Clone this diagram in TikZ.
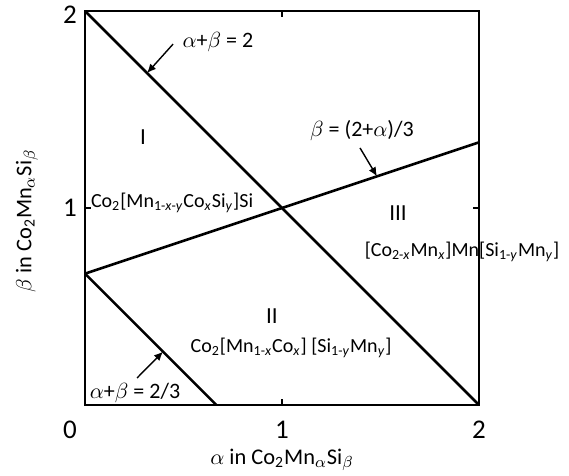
\documentclass[tikz,border=0pt]{standalone}
\usepackage{fontspec}
\setmainfont{Carlito}
\usepackage{tikz}
\usetikzlibrary{arrows.meta}
\newcommand{\sbs}[1]{\textsubscript{#1}}

\begin{document}
\begin{tikzpicture}[x=98.5pt,y=98.5pt,font=\fontsize{10}{12}\selectfont,
  >={Latex[length=4.5pt,width=4pt]},
  bd/.style={line width=1.3pt},
  ann/.style={->,line width=0.7pt},
  lb/.style={font=\fontsize{11}{13}\selectfont},
  tk/.style={font=\fontsize{13.5}{16}\selectfont},
  rg/.style={font=\fontsize{11.5}{14}\selectfont},
  ax/.style={font=\fontsize{11.2}{13}\selectfont}]
\useasboundingbox (-0.4315,-0.3604) rectangle (2.4569,2.0558);
\coordinate (o) at (0,0);
\coordinate (c) at (2,2);
\coordinate (b2) at (0,2);
\coordinate (a2) at (2,0);
\coordinate (b23) at (0,2/3);
\coordinate (a23) at (2/3,0);
\coordinate (r43) at (2,4/3);
\draw[bd] (o) rectangle (c);
\draw[bd] (b2) -- (a2);
\draw[bd] (b23) -- (r43);
\draw[bd] (b23) -- (a23);
\draw[line width=1pt] (1,0) -- ++(0,0.03) (1,2) -- ++(0,-0.03)
  (0,1) -- ++(0.03,0) (2,1) -- ++(-0.03,0);
\node[tk] (y2) at (-0.076,1.98) {2};
\node[tk] (y1) at (-0.076,1.0) {1};
\node[tk] (x0) at (-0.076,-0.127) {0};
\node[tk] (x1) at (1,-0.127) {1};
\node[tk] (x2) at (2,-0.127) {2};
\node[ax] (xlab) at (1,-0.279) {$\alpha$ in Co\sbs{2}Mn$_\alpha$Si$_\beta$};
\node[ax,rotate=90] (ylab) at (-0.295,0.935) {$\beta$ in Co\sbs{2}Mn$_\alpha$Si$_\beta$};
\node[rg] (r1) at (0.294,1.36) {I};
\node[rg] (r2) at (0.949,0.452) {II};
\node[rg] (r3) at (1.589,0.975) {III};
\node (f1) at (0.442,1.025) {Co\sbs{2}[Mn\sbs{1-\textit{x}-\textit{y}}Co\sbs{\textit{x}}Si\sbs{\textit{y}}]Si};
\node (f2) at (1.046,0.289) {Co\sbs{2}[Mn\sbs{1-\textit{x}}Co\sbs{\textit{x}}] [Si\sbs{1-\textit{y}}Mn\sbs{\textit{y}}]};
\node (f3) at (1.914,0.777) {[Co\sbs{2-\textit{x}}Mn\sbs{\textit{x}}]Mn[Si\sbs{1-\textit{y}}Mn\sbs{\textit{y}}]};
\node[lb] (l1) at (0.675,1.843) {$\alpha$+$\beta$ = 2};
\node[lb] (l2) at (1.406,1.391) {$\beta$ = (2+$\alpha$)/3};
\node[lb] (l3) at (0.254,0.061) {$\alpha$+$\beta$ = 2/3};
\path (b2) -- (a2) coordinate[pos=0.1575] (p1);
\path (b23) -- (r43) coordinate[pos=0.741] (p2);
\path (b23) -- (a23) coordinate[pos=0.594] (p3);
\coordinate (q1) at (0.447,1.832);
\coordinate (q2) at (1.396,1.305);
\coordinate (q3) at (0.264,0.137);
\draw[ann] (q1) -- (p1);
\draw[ann] (q2) -- (p2);
\draw[ann] (q3) -- (p3);
\end{tikzpicture}
\end{document}
